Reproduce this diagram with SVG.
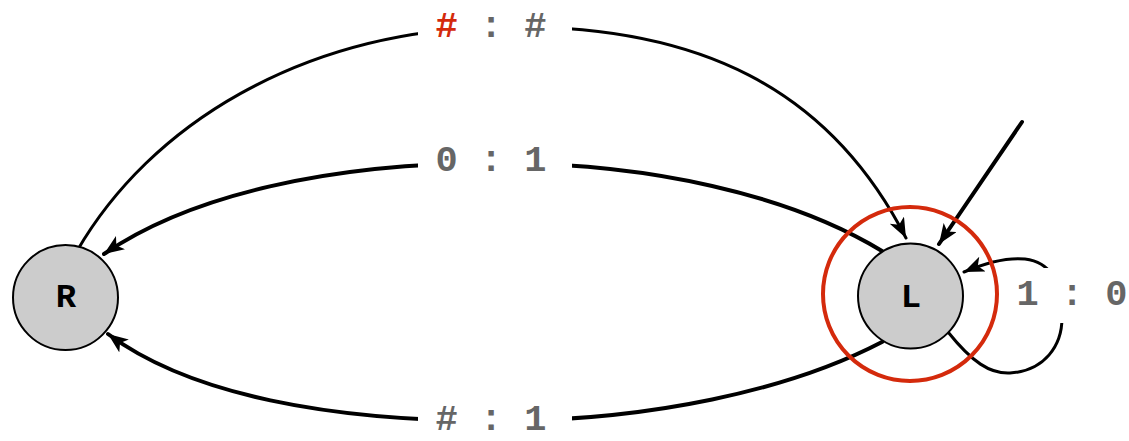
<svg xmlns="http://www.w3.org/2000/svg" width="1129" height="441" viewBox="0 0 1129 441">
<style>
.edge{fill:none;stroke:#000;stroke-linecap:round}
.lbl{font-family:"Liberation Mono","DejaVu Sans Mono",monospace;font-weight:bold;font-size:37px;fill:#666;text-anchor:middle}
.node .st{fill:#ccc;stroke:#000;stroke-width:2}
.node text{font-family:"Courier New","Nimbus Mono PS","FreeMono","Liberation Mono",monospace;font-weight:bold;font-size:34px;fill:#000;text-anchor:middle}
.ring{fill:none;stroke:#d42a0c;stroke-width:4}
.bg{fill:#fff}
</style>
<defs>
<marker id="arr" markerUnits="userSpaceOnUse" markerWidth="22" markerHeight="18" refX="20" refY="8" orient="auto">
<path d="M0,0 L20,8 L0,16 L5,8 Z" fill="#000"/>
</marker>
</defs>
<g id="connectors">
<path class="edge" stroke-width="3" d="M77 251 C150 125 300 32 495 27 C700 22 830 90 906 238" marker-end="url(#arr)"/>
<path class="edge" stroke-width="4" d="M882 251 C790 195 650 163 495 163 C330 163 190 195 104 254" marker-end="url(#arr)"/>
<path class="edge" stroke-width="4" d="M882 342 C790 390 650 421 495 421 C330 421 190 395 108 334" marker-end="url(#arr)"/>
<path class="edge" stroke-width="4" d="M1022 122 L939 244" marker-end="url(#arr)"/>
<path class="edge" stroke-width="3" d="M948 332 C972 362 990 374 1010 373 C1045 371 1062 345 1062 318 C1062 285 1052 262 1025 259 C1005 257 985 263 964 272" marker-end="url(#arr)"/>
<rect class="bg" x="418" y="5" width="154" height="45"/>
<text class="lbl" x="491" y="37"><tspan fill="#d42a0c">#</tspan> : #</text>
<rect class="bg" x="418" y="140" width="154" height="45"/>
<text class="lbl" x="491" y="171">0 : 1</text>
<rect class="bg" x="418" y="400" width="154" height="41"/>
<text class="lbl" x="491" y="430"># : 1</text>
<rect class="bg" x="1005" y="268" width="124" height="55"/>
<text class="lbl" x="1072" y="305">1 : 0</text>
</g>
<g id="node-R" class="node">
<circle class="st" cx="65.5" cy="297.5" r="52.5"/>
<text x="66" y="307">R</text>
</g>
<g id="node-L" class="node">
<circle class="st" cx="910.5" cy="296" r="52.5"/>
<text x="911" y="307">L</text>
<circle class="ring" cx="910" cy="294" r="87"/>
</g>
</svg>
